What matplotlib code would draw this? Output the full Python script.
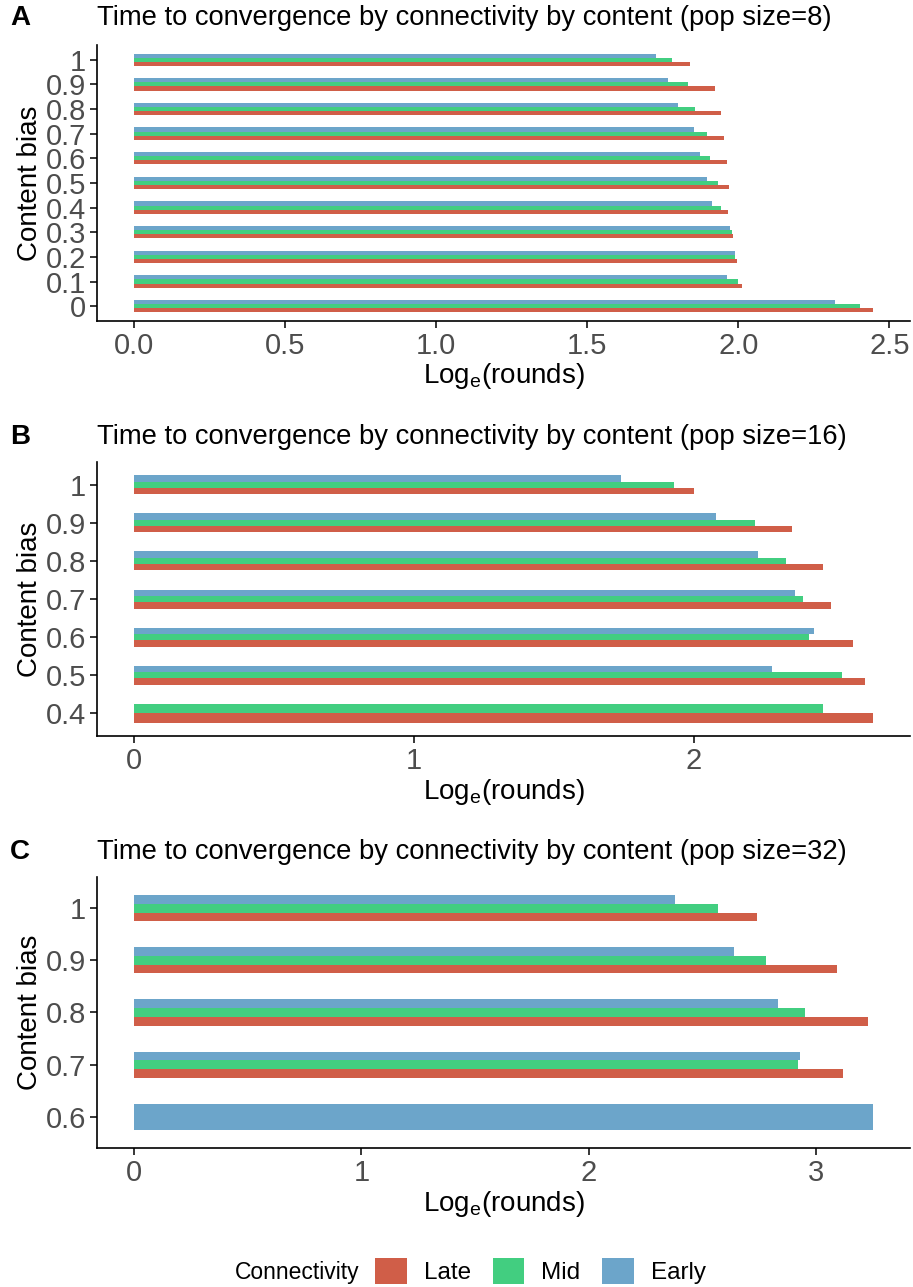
import numpy as np
import matplotlib
matplotlib.use("Agg")
from matplotlib import pyplot as plt
from matplotlib.patches import Patch

plt.rcParams['font.family'] = ['Liberation Sans', 'DejaVu Sans']
plt.rcParams['mathtext.default'] = 'regular'

# panel A, pop size 8
content_a = ["0", "0.1", "0.2", "0.3", "0.4", "0.5", "0.6", "0.7", "0.8", "0.9", "1"]
late_a = [2.446, 2.013, 1.997, 1.983, 1.967, 1.970, 1.963, 1.953, 1.943, 1.924, 1.840]
mid_a = [2.402, 2.000, 1.990, 1.980, 1.943, 1.933, 1.907, 1.897, 1.857, 1.834, 1.780]
early_a = [2.319, 1.963, 1.990, 1.973, 1.914, 1.897, 1.874, 1.854, 1.800, 1.767, 1.727]

# panel B, pop size 16
content_b = ["0.4", "0.5", "0.6", "0.7", "0.8", "0.9", "1"]
late_b = [2.64, 2.61, 2.57, 2.49, 2.46, 2.35, 2.00]
mid_b = [2.46, 2.53, 2.41, 2.39, 2.33, 2.22, 1.93]
early_b = [np.nan, 2.28, 2.43, 2.36, 2.23, 2.08, 1.74]

# panel C, pop size 32
content_c = ["0.6", "0.7", "0.8", "0.9", "1"]
late_c = [np.nan, 3.12, 3.23, 3.09, 2.74]
mid_c = [np.nan, 2.92, 2.95, 2.78, 2.57]
early_c = [3.25, 2.93, 2.83, 2.64, 2.38]

groups = ["Late", "Mid", "Early"]
colors = {"Late": "#D05E48", "Mid": "#42CE80", "Early": "#6CA5CA"}
dodge = 0.5

fig = plt.figure(figsize=(9.13, 12.87), dpi=100)

panels = [
    ("A", "Time to convergence by connectivity by content (pop size=8)",
     content_a, late_a, mid_a, early_a, [0, 0.5, 1.0, 1.5, 2.0, 2.5], "%.1f",
     [0.1063, 0.7506, 0.8904, 0.2145], 18),
    ("B", "Time to convergence by connectivity by content (pop size=16)",
     content_b, late_b, mid_b, early_b, [0, 1, 2], "%d",
     [0.1063, 0.4281, 0.8904, 0.2129], 437),
    ("C", "Time to convergence by connectivity by content (pop size=32)",
     content_c, late_c, mid_c, early_c, [0, 1, 2, 3], "%d",
     [0.1063, 0.1080, 0.8904, 0.2106], 852),
]

for letter, title, cats, late, mid, early, xt, fmt, pos, ty in panels:
    ax = fig.add_axes(pos)
    series = {"Late": late, "Mid": mid, "Early": early}
    vmax = 0
    for i in range(len(cats)):
        present = [g for g in groups if not np.isnan(series[g][i])]
        w = dodge / len(present)
        for k, g in enumerate(present):
            v = series[g][i]
            ax.barh(i + 1 - dodge / 2 + w * (k + 0.5), v, height=w,
                    color=colors[g], linewidth=0)
            vmax = max(vmax, v)
    ax.set_xlim(-0.05 * vmax, 1.05 * vmax)
    ax.set_ylim(0.4, len(cats) + 0.6)
    ax.set_yticks(range(1, len(cats) + 1))
    ax.set_yticklabels(cats)
    ax.set_xticks(xt)
    ax.set_xticklabels([fmt % t for t in xt])
    ax.tick_params(labelsize=21, labelcolor="#4D4D4D", length=5, width=1.1,
                   pad=3)
    for s in ["top", "right"]:
        ax.spines[s].set_visible(False)
    for s in ["left", "bottom"]:
        ax.spines[s].set_linewidth(1.2)
    ax.set_xlabel("Log$_e$(rounds)", fontsize=20, labelpad=1)
    ax.set_ylabel("Content bias", fontsize=20, labelpad=2)
    fig.text(0.011, 1 - ty / 1287, letter, fontsize=20, fontweight="bold",
             va="center", ha="left")
    fig.text(0.1063, 1 - ty / 1287, title, fontsize=19.75, va="center", ha="left")

handles = [Patch(facecolor=colors[g], label=g) for g in groups]
fig.text(0.257, 1 - 1272 / 1287, "Connectivity", fontsize=16.5,
         va="center", ha="left")
fig.legend(handles=handles, loc="center left", ncol=3, frameon=False,
           bbox_to_anchor=(0.40, 1 - 1271 / 1287), fontsize=17.5,
           handlelength=1.3, handleheight=1.3, handletextpad=0.7,
           columnspacing=0.9, borderaxespad=0)

fig.savefig("out.png", dpi=100)
